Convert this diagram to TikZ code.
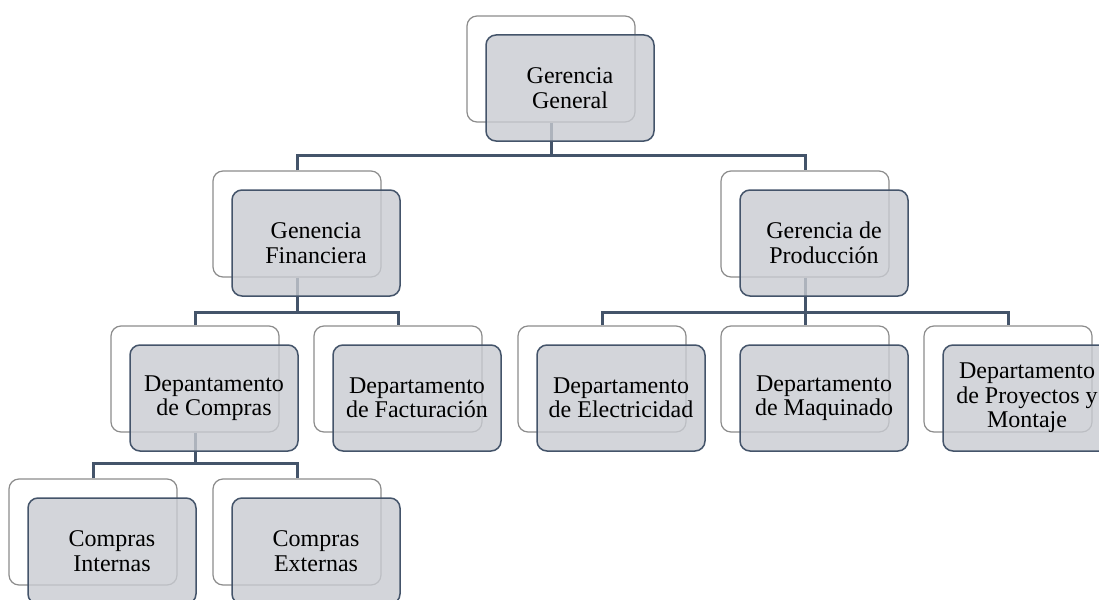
\documentclass[tikz,border=0pt]{standalone}
\usepackage{fontspec}
\setmainfont{Liberation Serif}
\definecolor{edgec}{RGB}{68,84,106}
\definecolor{frontfill}{RGB}{200,203,209}
\definecolor{backline}{RGB}{140,140,140}
\tikzset{
 backbox/.style={draw=backline, line width=1.2pt, fill=white, rounded corners=10pt, minimum width=168pt, minimum height=106pt, inner sep=0pt},
 frontbox/.style={draw=edgec, line width=1.5pt, fill=frontfill, fill opacity=0.8, text opacity=1, rounded corners=10pt, minimum width=168pt, minimum height=106pt, align=center, font=\fontsize{24}{24.5}\selectfont, inner sep=0pt},
 conn/.style={draw=edgec, line width=3pt}
}
\begin{document}
\begin{tikzpicture}[x=1pt,y=-1pt]
\useasboundingbox (0,0) rectangle (1099,599);
\clip (0,0) rectangle (1099,599);
\fill[white] (0,0) rectangle (1099,599);
% back boxes
\node[backbox] (b1) at (551,69) {};
\node[backbox] (b2) at (297,224) {};
\node[backbox] (b3) at (805,224) {};
\node[backbox] (b4) at (195,379) {};
\node[backbox] (b5) at (398,379) {};
\node[backbox] (b6) at (602,379) {};
\node[backbox] (b7) at (805,379) {};
\node[backbox] (b8) at (1008,379) {};
\node[backbox] (b9) at (93,532) {};
\node[backbox] (b10) at (297,532) {};
% connectors
\coordinate (j1) at (551,155);
\coordinate (j2) at (297,312);
\coordinate (j3) at (805,312);
\coordinate (j4) at (195,463);
\draw[conn] (b1.south) -- (j1);
\draw[conn] (b2.north) |- (j1) -| (b3.north);
\draw[conn] (b2.south) -- (j2);
\draw[conn] (b4.north) |- (j2) -| (b5.north);
\draw[conn] (b3.south) -- (j3);
\draw[conn] (b6.north) |- (j3) -| (b8.north);
\draw[conn] (j3) -- (b7.north);
\draw[conn] (b4.south) -- (j4);
\draw[conn] (b9.north) |- (j4) -| (b10.north);
% front boxes
\node[frontbox] (f1) at (570,88) {Gerencia\\General};
\node[frontbox] (f2) at (316,243) {Genencia\\Financiera};
\node[frontbox] (f3) at (824,243) {Gerencia de\\Producción};
\node[frontbox] (f4) at (214,398) {Depantamento\\de Compras};
\node[frontbox] (f5) at (417,398) {Departamento\\de Facturación};
\node[frontbox] (f6) at (621,398) {Departamento\\de Electricidad};
\node[frontbox] (f7) at (824,398) {Departamento\\de Maquinado};
\node[frontbox] (f8) at (1027,398) {Departamento\\de Proyectos y\\Montaje};
\node[frontbox] (f9) at (112,551) {Compras\\Internas};
\node[frontbox] (f10) at (316,551) {Compras\\Externas};
\end{tikzpicture}
\end{document}
